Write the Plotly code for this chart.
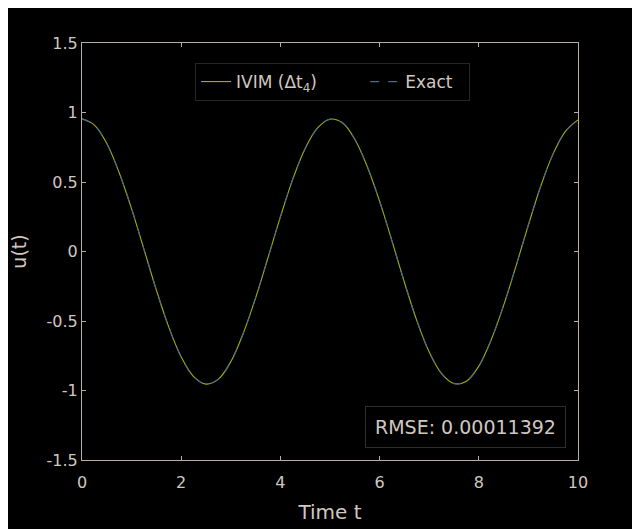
import plotly.graph_objects as go

t_vals = [0, 0.25, 0.5, 0.75, 1.0, 1.25, 1.5, 1.75, 2.0, 2.25, 2.5, 2.75, 3.0, 3.25, 3.5, 3.75,
          4.0, 4.25, 4.5, 4.75, 5.0, 5.25, 5.5, 5.75, 6.0, 6.25, 6.5, 6.75, 7.0, 7.25, 7.5, 7.75,
          8.0, 8.25, 8.5, 8.75, 9.0, 9.25, 9.5, 9.75, 10.0]
u_ivim = [0.955, 0.909, 0.777, 0.567, 0.307, 0.015, -0.278, -0.544, -0.759, -0.900, -0.954,
          -0.918, -0.793, -0.590, -0.334, -0.045, 0.249, 0.521, 0.741, 0.889, 0.952, 0.926,
          0.808, 0.612, 0.362, 0.075, -0.221, -0.497, -0.723, -0.879, -0.950, -0.933, -0.825,
          -0.635, -0.388, -0.105, 0.191, 0.471, 0.704, 0.866, 0.947]
u_exact = [0.955, 0.909, 0.777, 0.567, 0.307, 0.015, -0.278, -0.544, -0.759, -0.900, -0.954,
           -0.918, -0.793, -0.590, -0.334, -0.045, 0.249, 0.521, 0.741, 0.889, 0.952, 0.926,
           0.808, 0.612, 0.362, 0.075, -0.221, -0.497, -0.723, -0.879, -0.950, -0.933, -0.825,
           -0.635, -0.388, -0.105, 0.191, 0.471, 0.704, 0.866, 0.947]
x_ticks = [0, 2, 4, 6, 8, 10]
y_ticks = [-1.5, -1, -0.5, 0, 0.5, 1, 1.5]
y_tick_text = ["-1.5", "-1", "-0.5", "0", "0.5", "1", "1.5"]
rmse_text = "RMSE: 0.00011392"

axis_col = "#b8aea6"
text_col = "#d0c8c0"
font_fam = "DejaVu Sans, sans-serif"
nb = "\u00a0"

fig = go.Figure()
fig.add_trace(go.Scatter(x=t_vals, y=u_ivim, mode="lines",
                         name="IVIM (Δt<sub>4</sub>)" + nb * 8,
                         line=dict(color="#a2b000", width=1.1, shape="spline")))
fig.add_trace(go.Scatter(x=t_vals, y=u_exact, mode="lines", name="Exact" + nb * 2,
                         line=dict(color="#4a6a8a", width=1.2, dash="dash", shape="spline")))

fig.add_annotation(x=0.975, y=0.028, xref="paper", yref="paper", xanchor="right", yanchor="bottom",
                   text=rmse_text, showarrow=False,
                   font=dict(size=19, color=text_col, family=font_fam),
                   bordercolor="#2e2e2e", borderwidth=1, borderpad=9, bgcolor="black")

fig.update_layout(
    width=632, height=521,
    paper_bgcolor="black", plot_bgcolor="black",
    margin=dict(l=74, r=62, t=35, b=69),
    font=dict(family=font_fam, color=text_col, size=16),
    showlegend=True,
    legend=dict(orientation="h", x=0.228, y=0.952, xanchor="left", yanchor="top",
                bgcolor="black", bordercolor="#262626", borderwidth=1,
                font=dict(size=17, color=text_col, family=font_fam),
                itemwidth=30),
    xaxis=dict(range=[0, 10], tickvals=x_ticks, showgrid=False, zeroline=False,
               showline=True, linecolor=axis_col, linewidth=1, mirror="ticks",
               ticks="inside", ticklen=4, tickcolor=axis_col, automargin=False,
               ticklabelstandoff=8,
               title=dict(text="Time t", font=dict(size=20, color=text_col), standoff=13),
               tickfont=dict(size=16, color=text_col)),
    yaxis=dict(range=[-1.5, 1.5], tickvals=y_ticks, ticktext=y_tick_text, showgrid=False,
               zeroline=False, showline=True, linecolor=axis_col, linewidth=1, mirror="ticks",
               ticks="inside", ticklen=4, tickcolor=axis_col, automargin=False,
               title=dict(text="u(t)", font=dict(size=19, color=text_col), standoff=26),
               tickfont=dict(size=16, color=text_col)),
)

fig.write_html("out.html")
